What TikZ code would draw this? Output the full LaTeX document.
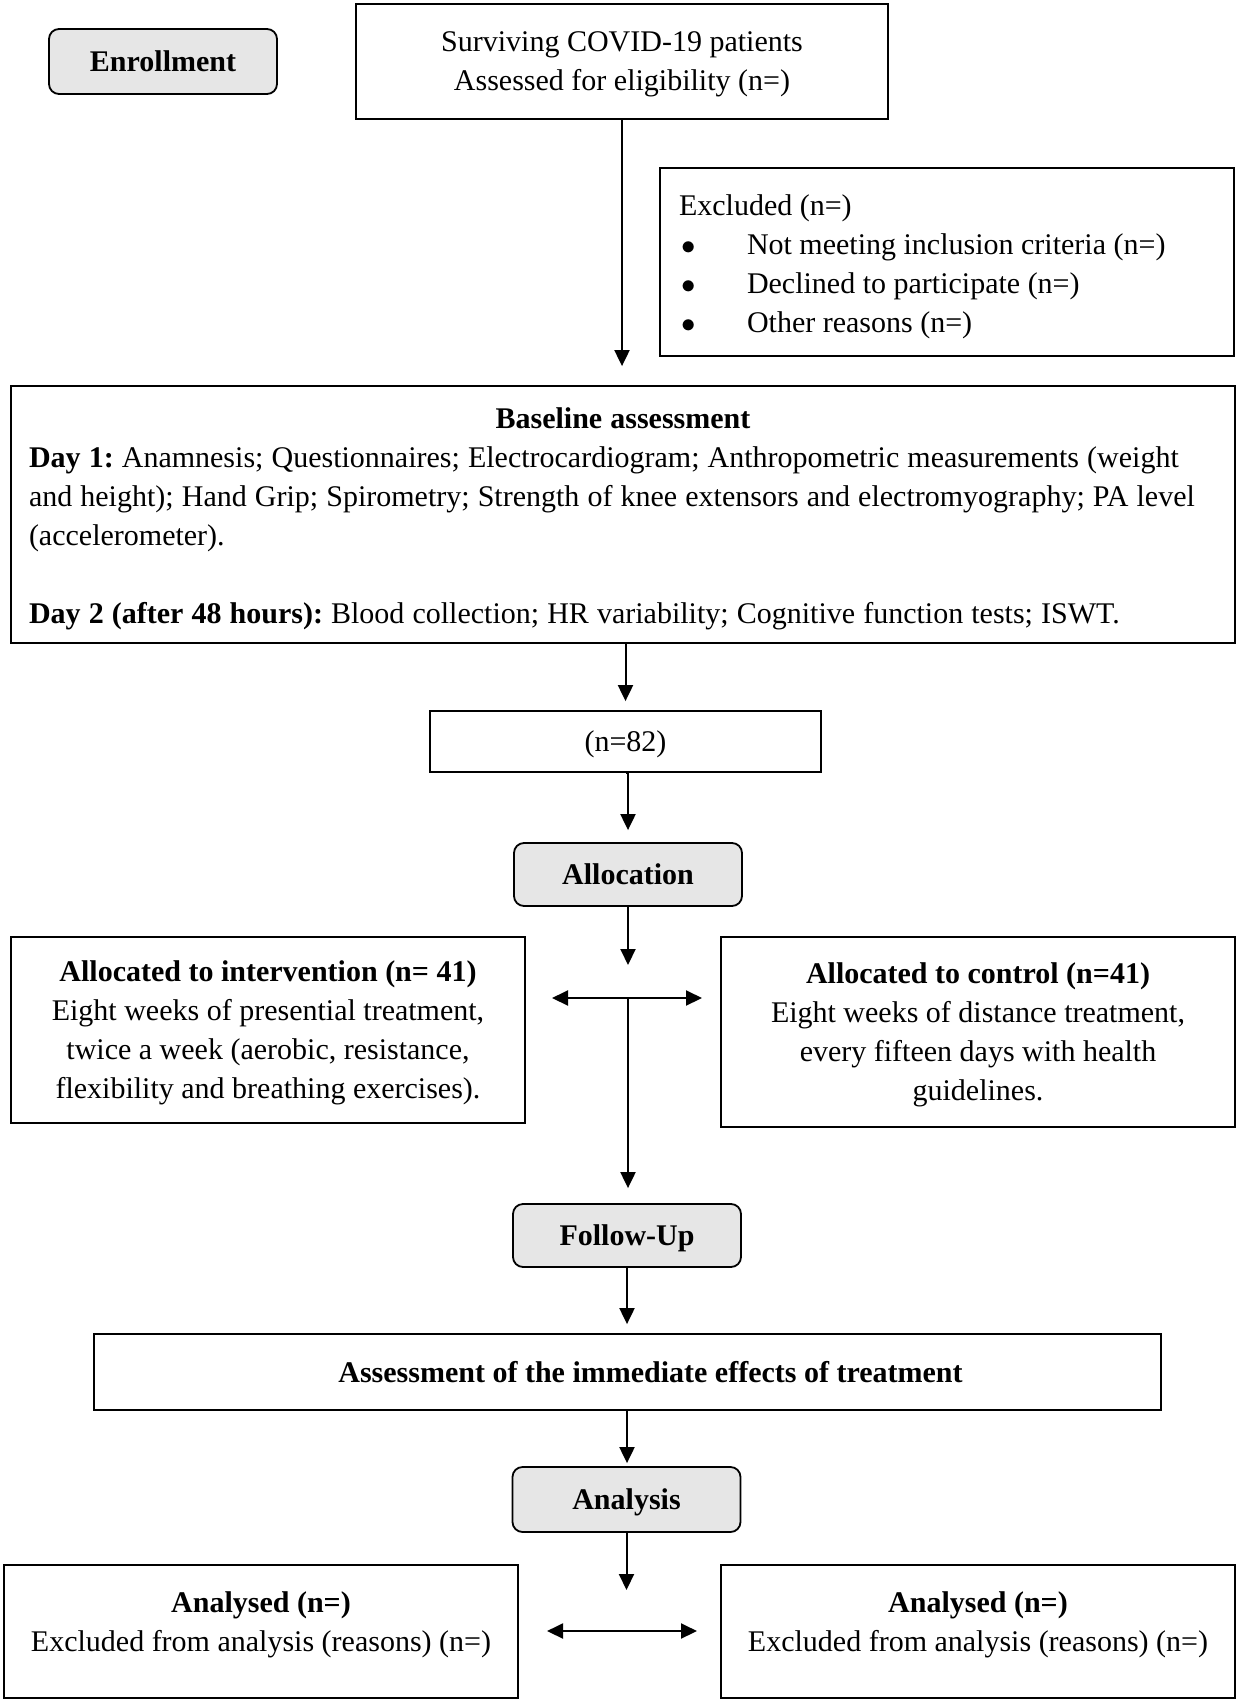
\documentclass[tikz,border=0pt]{standalone}
\usepackage{fontspec}
\setmainfont{Liberation Serif}
\usetikzlibrary{arrows.meta,positioning}
\definecolor{stagegray}{HTML}{E6E6E6}
\begin{document}
\fontsize{15pt}{19.5pt}\selectfont\frenchspacing
\begin{tikzpicture}[x=0.5pt,y=-0.5pt,
 box/.style={draw,line width=0.9pt,inner sep=0pt,align=center},
 cbox/.style={box,text depth=0pt},
 stage/.style={cbox,rounded corners=5pt,fill=stagegray,font=\bfseries,minimum width=114pt,minimum height=31.5pt},
 arr/.style={line width=1pt,-{Triangle[length=8pt,width=7.5pt]}},
 dblarr/.style={line width=1pt,{Triangle[length=8pt,width=7.5pt]}-{Triangle[length=8pt,width=7.5pt]}}]
 \useasboundingbox (0,0) rectangle (1235,1700);
 \node[stage,minimum height=32.5pt] (enroll) at (163,61.5) {Enrollment};
 \node[cbox,minimum width=266pt,minimum height=57.5pt] (top) at (622,61.5) {Surviving COVID-19 patients\\Assessed for eligibility (n=)};
 \node[box,align=left,text width=268pt,inner xsep=9.5pt,minimum height=94pt] (excl) at (947,262) {\spaceskip=.25em\relax Excluded (n=)\\
  \hspace*{1pt}\makebox[33pt][l]{$\bullet$}Not meeting inclusion criteria (n=)\\
  \hspace*{1pt}\makebox[33pt][l]{$\bullet$}Declined to participate (n=)\\
  \hspace*{1pt}\makebox[33pt][l]{$\bullet$}Other reasons (n=)\par\kern-4.5pt};
 \node[box,align=left,text width=594pt,inner xsep=9pt,minimum height=128.5pt] (base) at (623,514.5) {\spaceskip=.27em\relax
  \hfill\textbf{Baseline assessment}\hfill\null\\
  \mbox{\textbf{Day 1:} Anamnesis; Questionnaires; Electrocardiogram; Anthropometric measurements (weight}\\
  \mbox{and height); Hand Grip; Spirometry; Strength of knee extensors and electromyography; PA level}\\
  (accelerometer).\\[19.5pt]
  \textbf{Day 2 (after 48 hours):} Blood collection; HR variability; Cognitive function tests; ISWT.\par\kern-4.5pt};
 \node[cbox,minimum width=195.5pt,minimum height=30.5pt] (n82) at (625.5,741.5) {(n=82)};
 \node[stage] (alloc) at (628,874.5) {Allocation};
 \node[cbox,minimum width=257pt,minimum height=93pt] (intv) at (268,1030) {\textbf{Allocated to intervention (n= 41)}\\Eight weeks of presential treatment,\\twice a week (aerobic, resistance,\\flexibility and breathing exercises).};
 \node[cbox,minimum width=257pt,minimum height=95pt] (ctrl) at (978,1032) {\textbf{Allocated to control (n=41)}\\Eight weeks of distance treatment,\\every fifteen days with health\\guidelines.};
 \node[stage] (follow) at (627,1235.5) {Follow-Up};
 \node[cbox,minimum width=533.5pt,minimum height=38pt,font=\bfseries] (assess) at (627.5,1372) {\hspace*{23pt}Assessment of the immediate effects of treatment};
 \node[stage,minimum height=32.5pt] (analysis) at (626.5,1499.5) {Analysis};
 \node[cbox,minimum width=257pt,minimum height=66.5pt,text depth=10pt] (anaL) at (261,1631.5) {\textbf{Analysed (n=)}\\Excluded from analysis (reasons) (n=)};
 \node[cbox,minimum width=257pt,minimum height=66.5pt,text depth=10pt] (anaR) at (978,1631.5) {\textbf{Analysed (n=)}\\Excluded from analysis (reasons) (n=)};
 \coordinate (split) at (628,998);
 \coordinate (splitL) at (552,998);
 \coordinate (splitR) at (702,998);
 \coordinate (endA) at (622,1590);
 \coordinate (endL) at (547,1631);
 \coordinate (endR) at (697,1631);
 \draw[arr,shorten >=9.5pt] (top.south) -- (top.south |- base.north);
 \draw[arr,shorten >=4.5pt] (n82.north |- base.south) -- (n82.north);
 \draw[arr,shorten >=6pt] (n82.south) -- (alloc.north |- n82.south) -- (alloc.north);
 \draw[arr,shorten >=16.5pt] (alloc.south) -- (split);
 \draw[dblarr] (splitL) -- (splitR);
 \draw[arr,shorten >=7.5pt] (split) -- (split |- follow.north);
 \draw[arr,shorten >=4.5pt] (follow.south) -- (follow.south |- assess.north);
 \draw[arr,shorten >=1.5pt] (follow.south |- assess.south) -- (follow.south |- analysis.north);
 \draw[arr] (analysis.south) -- (analysis.south |- endA);
 \draw[dblarr] (endL) -- (endR);
\end{tikzpicture}
\end{document}
